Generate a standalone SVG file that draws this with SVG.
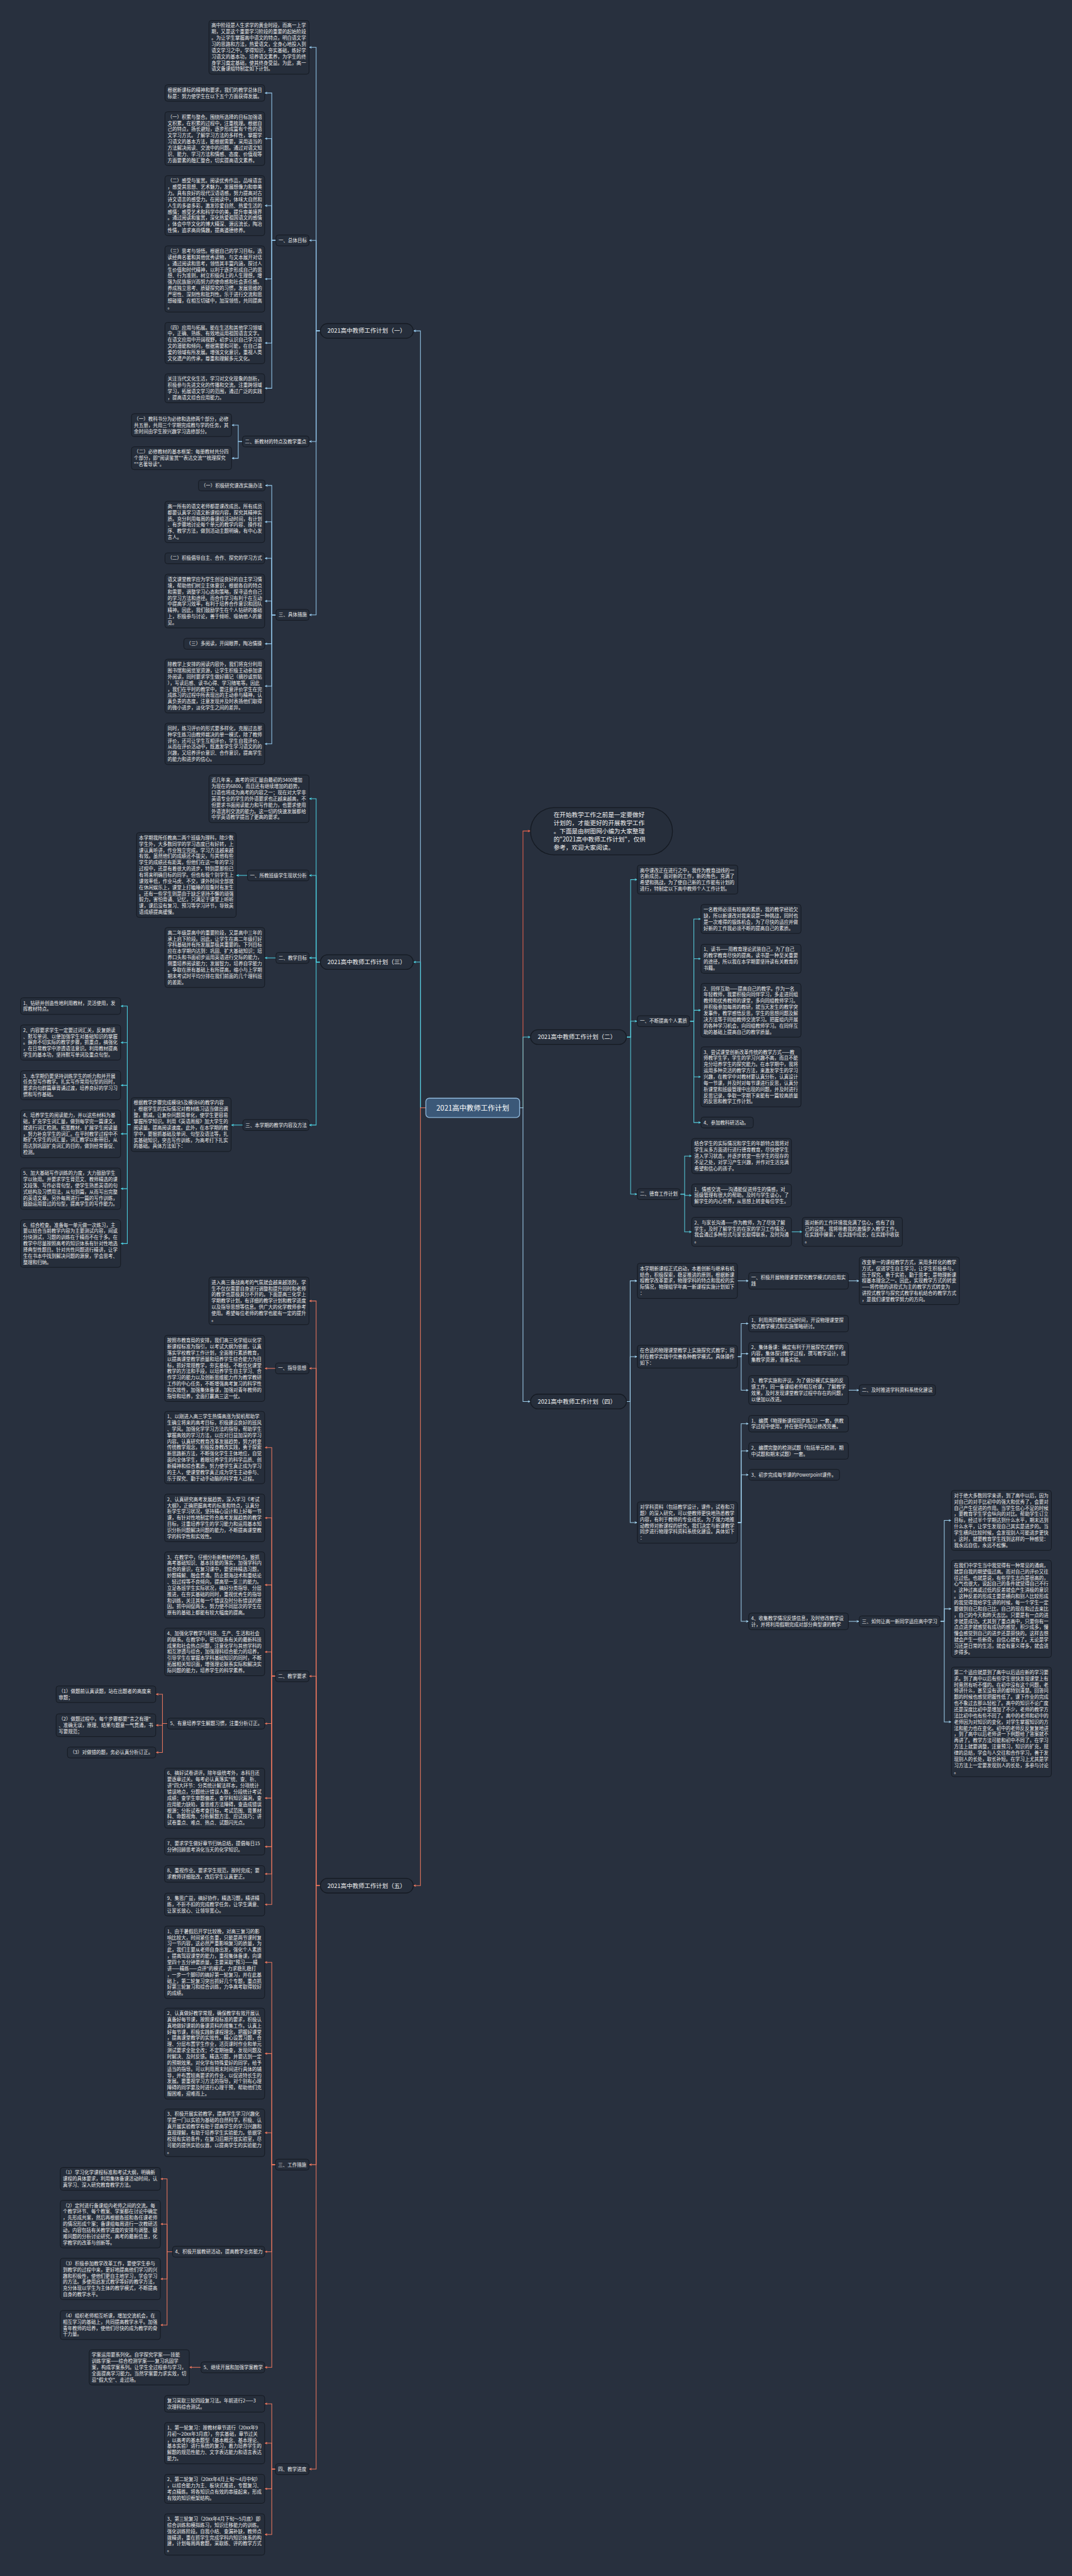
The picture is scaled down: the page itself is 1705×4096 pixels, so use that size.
<svg xmlns="http://www.w3.org/2000/svg" width="1705" height="4096" viewBox="0 0 1705 4096">
<style>
.n{fill:#262e3b;stroke:#151a22;stroke-width:1.5}
.p{fill:#262e3b;stroke:#151a22;stroke-width:2}
.t{font-family:"Noto Sans CJK SC","Noto Sans",sans-serif;font-size:11.3px;fill:#ececec}
.tt{font-family:"Noto Sans CJK SC","Noto Sans",sans-serif;font-size:14.2px;fill:#f0f0f0}
.bt{font-family:"Noto Sans CJK SC","Noto Sans",sans-serif;font-size:14.5px;fill:#f0f0f0}
.ct{font-family:"Noto Sans CJK SC","Noto Sans",sans-serif;font-size:17px;fill:#ffffff}
.l{fill:none;stroke-width:1.6}
.c1{stroke:#93c6ea}.c2{stroke:#55c7d8}.c3{stroke:#4ccfe0}.c4{stroke:#9ccbe8}.c5{stroke:#e8765e}.cr{stroke:#e2624e}
</style>
<defs>
<marker id="m1" viewBox="0 0 8 8" refX="7.5" refY="4" markerWidth="7" markerHeight="7" orient="auto" markerUnits="userSpaceOnUse"><path d="M0,0.5 L8,4 L0,7.5 L2,4 Z" fill="#93c6ea"/></marker>
<marker id="m2" viewBox="0 0 8 8" refX="7.5" refY="4" markerWidth="7" markerHeight="7" orient="auto" markerUnits="userSpaceOnUse"><path d="M0,0.5 L8,4 L0,7.5 L2,4 Z" fill="#55c7d8"/></marker>
<marker id="m3" viewBox="0 0 8 8" refX="7.5" refY="4" markerWidth="7" markerHeight="7" orient="auto" markerUnits="userSpaceOnUse"><path d="M0,0.5 L8,4 L0,7.5 L2,4 Z" fill="#4ccfe0"/></marker>
<marker id="m4" viewBox="0 0 8 8" refX="7.5" refY="4" markerWidth="7" markerHeight="7" orient="auto" markerUnits="userSpaceOnUse"><path d="M0,0.5 L8,4 L0,7.5 L2,4 Z" fill="#9ccbe8"/></marker>
<marker id="m5" viewBox="0 0 8 8" refX="7.5" refY="4" markerWidth="7" markerHeight="7" orient="auto" markerUnits="userSpaceOnUse"><path d="M0,0.5 L8,4 L0,7.5 L2,4 Z" fill="#e8765e"/></marker>
<marker id="mr" viewBox="0 0 8 8" refX="7.5" refY="4" markerWidth="7" markerHeight="7" orient="auto" markerUnits="userSpaceOnUse"><path d="M0,0.5 L8,4 L0,7.5 L2,4 Z" fill="#e2624e"/></marker>
</defs>
<rect x="0" y="0" width="1705" height="4096" fill="#28303e"/>
<g transform="scale(0.666)">
<g id="connectors">
<g class="l c1" marker-end="url(#m1)">
<path d="M1017,2645 H1004 V790 H987"/>
<path d="M765,790 H755 V113 H738"/><path d="M765,790 H755 V574 H738"/><path d="M765,790 H755 V1054 H738"/><path d="M765,790 H755 V1468 H738"/>
<path d="M659,574 H649 V222 H632"/><path d="M659,574 H649 V331 H632"/><path d="M659,574 H649 V491 H632"/><path d="M659,574 H649 V666 H632"/><path d="M659,574 H649 V819 H632"/><path d="M659,574 H649 V927 H632"/>
<path d="M579,1054 H569 V1015 H553"/><path d="M579,1054 H569 V1094 H553"/>
<path d="M659,1468 H649 V1159 H633"/><path d="M659,1468 H649 V1246 H632"/><path d="M659,1468 H649 V1333 H632"/><path d="M659,1468 H649 V1435 H632"/><path d="M659,1468 H649 V1537 H632"/><path d="M659,1468 H649 V1638 H632"/><path d="M659,1468 H649 V1776 H632"/>
</g>
<g class="l c3" marker-end="url(#m3)">
<path d="M1017,2645 H1004 V2297 H987"/>
<path d="M765,2297 H755 V1907 H738"/><path d="M765,2297 H755 V2090 H738"/><path d="M765,2297 H755 V2287 H738"/><path d="M765,2297 H755 V2686 H738"/>
<path d="M591,2090 H564"/><path d="M659,2287 H632"/><path d="M580,2686 H552"/>
<path d="M313,2685 H304 V2402 H288"/><path d="M313,2685 H304 V2489 H288"/><path d="M313,2685 H304 V2591 H288"/><path d="M313,2685 H304 V2707 H288"/><path d="M313,2685 H304 V2838 H288"/><path d="M313,2685 H304 V2969 H288"/>
</g>
<g class="l cr" marker-end="url(#mr)"><path d="M1241,2645 H1249 V1984 H1267"/></g>
<g class="l c2" marker-end="url(#m2)">
<path d="M1241,2645 H1249 V2476 H1267"/>
<path d="M1496,2476 H1506 V2100 H1522"/><path d="M1496,2476 H1506 V2438 H1522"/><path d="M1496,2476 H1506 V2851 H1522"/>
<path d="M1647,2438 H1657 V2194 H1674"/><path d="M1647,2438 H1657 V2289 H1674"/><path d="M1647,2438 H1657 V2412 H1674"/><path d="M1647,2438 H1657 V2571 H1674"/><path d="M1647,2438 H1657 V2680 H1674"/>
<path d="M1624,2851 H1635 V2760 H1652"/><path d="M1624,2851 H1635 V2854 H1652"/><path d="M1624,2851 H1635 V2941 H1652"/>
<path d="M1890,2941 H1916"/>
</g>
<g class="l c4" marker-end="url(#m4)">
<path d="M1241,2645 H1249 V3346 H1267"/>
<path d="M1496,3346 H1505 V3058 H1522"/><path d="M1496,3346 H1505 V3239 H1522"/><path d="M1496,3346 H1505 V3635 H1522"/>
<path d="M1761,3058 H1788"/><path d="M2026,3058 H2052"/>
<path d="M1761,3239 H1770 V3160 H1788"/><path d="M1761,3239 H1770 V3232 H1788"/><path d="M1761,3239 H1770 V3319 H1788"/>
<path d="M2026,3319 H2052"/>
<path d="M1761,3635 H1770 V3399 H1788"/><path d="M1761,3635 H1770 V3464 H1788"/><path d="M1761,3635 H1770 V3521 H1788"/><path d="M1761,3635 H1770 V3871 H1788"/>
<path d="M2026,3871 H2052"/>
<path d="M2245,3871 H2255 V3630 H2272"/><path d="M2245,3871 H2255 V3841 H2272"/><path d="M2245,3871 H2255 V4111 H2272"/>
</g>
<g class="l c5" marker-end="url(#m5)">
<path d="M1017,2645 H1004 V4502 H987"/>
<path d="M765,4502 H755 V3106 H738"/><path d="M765,4502 H755 V3267 H738"/><path d="M765,4502 H755 V4002 H738"/><path d="M765,4502 H755 V5168 H738"/><path d="M765,4502 H755 V5895 H738"/>
<path d="M658,3267 H632"/>
<path d="M658,4002 H649 V3456 H632"/><path d="M658,4002 H649 V3624 H632"/><path d="M658,4002 H649 V3784 H632"/><path d="M658,4002 H649 V3944 H632"/><path d="M658,4002 H649 V4115 H632"/><path d="M658,4002 H649 V4293 H632"/><path d="M658,4002 H649 V4409 H632"/><path d="M658,4002 H649 V4474 H632"/><path d="M658,4002 H649 V4547 H632"/>
<path d="M400,4115 H388 V4045 H372"/><path d="M400,4115 H388 V4119 H372"/><path d="M400,4115 H388 V4184 H372"/>
<path d="M658,5168 H649 V4685 H632"/><path d="M658,5168 H649 V4903 H632"/><path d="M658,5168 H649 V5092 H632"/><path d="M658,5168 H649 V5376 H632"/><path d="M658,5168 H649 V5652 H632"/>
<path d="M412,5376 H399 V5202 H383"/><path d="M412,5376 H399 V5310 H383"/><path d="M412,5376 H399 V5441 H383"/><path d="M412,5376 H399 V5551 H383"/>
<path d="M480,5652 H452"/>
<path d="M658,5895 H649 V5739 H632"/><path d="M658,5895 H649 V5833 H632"/><path d="M658,5895 H649 V5942 H632"/><path d="M658,5895 H649 V6051 H632"/>
</g>
</g>

<g id="center"><rect x="1017" y="2622" width="224" height="46" rx="8" fill="#3b5878" stroke="#8fb8dc" stroke-width="2"/><text class="ct" x="1129" y="2651" text-anchor="middle">2021高中教师工作计划</text></g>

<g id="t1"><rect class="p" x="765" y="772.5" width="222" height="35" rx="17.5"/><text class="tt" x="782" y="795">2021高中教师工作计划（一）</text></g>
<g id="t3"><rect class="p" x="765" y="2279.5" width="222" height="35" rx="17.5"/><text class="tt" x="782" y="2302">2021高中教师工作计划（三）</text></g>
<g id="t5"><rect class="p" x="765" y="4484.5" width="222" height="35" rx="17.5"/><text class="tt" x="782" y="4507">2021高中教师工作计划（五）</text></g>
<g id="t2"><rect class="p" x="1267" y="2458.5" width="229" height="35" rx="17.5"/><text class="tt" x="1284" y="2481">2021高中教师工作计划（二）</text></g>
<g id="t4"><rect class="p" x="1267" y="3328.5" width="229" height="35" rx="17.5"/><text class="tt" x="1284" y="3351">2021高中教师工作计划（四）</text></g>

<g id="intro"><rect class="p" x="1267" y="1928" width="339" height="113" rx="56.5"/><text class="bt" x="1322" y="1950"><tspan x="1322" dy="0">在开始教学工作之前是一定要做好</tspan><tspan x="1322" dy="19.6">计划的，才能更好的开展教学工作</tspan><tspan x="1322" dy="19.6">。下面是由树图网小编为大家整理</tspan><tspan x="1322" dy="19.6">的"2021高中教师工作计划"，仅供</tspan><tspan x="1322" dy="19.6">参考，欢迎大家阅读。</tspan></text></g>

<g id="s1-intro"><rect class="n" x="499" y="48.8" width="239" height="128.4" rx="6"/><text class="t" x="505" y="65.3"><tspan x="505" dy="0">高中阶段是人生求学的黄金时段，而高一上学</tspan><tspan x="505" dy="14.8">期，又是这个重要学习阶段的重要的起始阶段</tspan><tspan x="505" dy="14.8">。为让学生掌握高中语文的特点，明白语文学</tspan><tspan x="505" dy="14.8">习的思路和方法，热爱语文，全身心地投入到</tspan><tspan x="505" dy="14.8">语文学习之中，学得知识，夯实基础，练好学</tspan><tspan x="505" dy="14.8">习语文的基本功，培养语文素养，为学生的终</tspan><tspan x="505" dy="14.8">身学习奠定基础，使其终身受益。为此，高一</tspan><tspan x="505" dy="14.8">语文备课组特制定如下计划。</tspan></text></g>
<g id="s1-h1"><rect class="n" x="659" y="561" width="79" height="26" rx="6"/><text class="t" x="665" y="578">一、总体目标</text></g>
<g id="s1-a"><rect class="n" x="394" y="202.2" width="238" height="39.6" rx="6"/><text class="t" x="400" y="218.7"><tspan x="400" dy="0">根据新课标的精神和要求，我们的教学总体目</tspan><tspan x="400" dy="14.8">标是：努力使学生在以下五个方面获得发展。</tspan></text></g>
<g id="s1-b"><rect class="n" x="394" y="266.8" width="238" height="128.4" rx="6"/><text class="t" x="400" y="283.3"><tspan x="400" dy="0">（一）积累与整合。围绕所选择的目标加强语</tspan><tspan x="400" dy="14.8">文积累，在积累的过程中，注重梳理。根据自</tspan><tspan x="400" dy="14.8">己的特点，扬长避短，逐步形成富有个性的语</tspan><tspan x="400" dy="14.8">文学习方式。了解学习方法的多样性，掌握学</tspan><tspan x="400" dy="14.8">习语文的基本方法，能根据需要，采用适当的</tspan><tspan x="400" dy="14.8">方法解决阅读、交流中的问题。通过对语文知</tspan><tspan x="400" dy="14.8">识、能力、学习方法和情感、态度、价值观等</tspan><tspan x="400" dy="14.8">方面要素的融汇整合，切实提高语文素养。</tspan></text></g>
<g id="s1-c"><rect class="n" x="394" y="419.4" width="238" height="143.2" rx="6"/><text class="t" x="400" y="435.9"><tspan x="400" dy="0">（二）感受与鉴赏。阅读优秀作品，品味语言</tspan><tspan x="400" dy="14.8">，感受其思想、艺术魅力，发展想像力和审美</tspan><tspan x="400" dy="14.8">力。具有良好的现代汉语语感，努力提高对古</tspan><tspan x="400" dy="14.8">诗文语言的感受力。在阅读中，体味大自然和</tspan><tspan x="400" dy="14.8">人生的多姿多彩，激发珍爱自然、热爱生活的</tspan><tspan x="400" dy="14.8">感情；感受艺术和科学中的美，提升审美境界</tspan><tspan x="400" dy="14.8">。通过阅读和鉴赏，深化热爱祖国语文的感情</tspan><tspan x="400" dy="14.8">，体会中华文化的博大精深、源远流长，陶冶</tspan><tspan x="400" dy="14.8">性情，追求高尚情趣，提高道德修养。</tspan></text></g>
<g id="s1-d"><rect class="n" x="394" y="587" width="238" height="158" rx="6"/><text class="t" x="400" y="603.5"><tspan x="400" dy="0">（三）思考与领悟。根据自己的学习目标，选</tspan><tspan x="400" dy="14.8">读经典名著和其他优秀读物，与文本展开对话</tspan><tspan x="400" dy="14.8">。通过阅读和思考，领悟其丰富内涵，探讨人</tspan><tspan x="400" dy="14.8">生价值和时代精神，以利于逐步形成自己的思</tspan><tspan x="400" dy="14.8">想、行为准则，树立积极向上的人生理想，增</tspan><tspan x="400" dy="14.8">强为民族振兴而努力的使命感和社会责任感。</tspan><tspan x="400" dy="14.8">养成独立思考、质疑探究的习惯，发展思维的</tspan><tspan x="400" dy="14.8">严密性、深刻性和批判性。乐于进行交流和思</tspan><tspan x="400" dy="14.8">想碰撞，在相互切磋中，加深领悟，共同提高</tspan><tspan x="400" dy="14.8">。</tspan></text></g>
<g id="s1-e"><rect class="n" x="394" y="769.6" width="238" height="98.8" rx="6"/><text class="t" x="400" y="786.1"><tspan x="400" dy="0">（四）应用与拓展。能在生活和其他学习领域</tspan><tspan x="400" dy="14.8">中，正确、熟练、有效地运用祖国语言文字。</tspan><tspan x="400" dy="14.8">在语文应用中开阔视野，初步认识自己学习语</tspan><tspan x="400" dy="14.8">文的潜能和倾向，根据需要和可能，在自己喜</tspan><tspan x="400" dy="14.8">爱的领域有所发展。增强文化意识，重视人类</tspan><tspan x="400" dy="14.8">文化遗产的传承，尊重和理解多元文化。</tspan></text></g>
<g id="s1-f"><rect class="n" x="394" y="892.4" width="238" height="69.2" rx="6"/><text class="t" x="400" y="908.9"><tspan x="400" dy="0">关注当代文化生活，学习对文化现象的剖析，</tspan><tspan x="400" dy="14.8">积极参与先进文化的传播和交流。注重跨领域</tspan><tspan x="400" dy="14.8">学习，拓展语文学习的范围，通过广泛的实践</tspan><tspan x="400" dy="14.8">，提高语文综合应用能力。</tspan></text></g>
<g id="s1-h2"><rect class="n" x="579" y="1041" width="159" height="26" rx="6"/><text class="t" x="585" y="1058">二、新教材的特点及教学重点</text></g>
<g id="s1-g"><rect class="n" x="314" y="987.8" width="239" height="54.4" rx="6"/><text class="t" x="320" y="1004.3"><tspan x="320" dy="0">（一）教科书分为必修和选修两个部分，必修</tspan><tspan x="320" dy="14.8">共五册，共用三个学期完成教与学的任务，其</tspan><tspan x="320" dy="14.8">余时间由学生按兴趣学习选修部分。</tspan></text></g>
<g id="s1-h"><rect class="n" x="314" y="1066.8" width="239" height="54.4" rx="6"/><text class="t" x="320" y="1083.3"><tspan x="320" dy="0">（二）必修教材的基本框架：每册教材共分四</tspan><tspan x="320" dy="14.8">个部分，即"阅读鉴赏""表达交流""梳理探究</tspan><tspan x="320" dy="14.8">""名著导读"。</tspan></text></g>
<g id="s1-h3"><rect class="n" x="659" y="1455" width="79" height="26" rx="6"/><text class="t" x="665" y="1472">三、具体措施</text></g>
<g id="s1-i"><rect class="n" x="474" y="1146" width="159" height="26" rx="6"/><text class="t" x="480" y="1163">（一）积极研究课改实施办法</text></g>
<g id="s1-j"><rect class="n" x="394" y="1196.6" width="238" height="98.8" rx="6"/><text class="t" x="400" y="1213.1"><tspan x="400" dy="0">高一所有的语文老师都是课改成员。所有成员</tspan><tspan x="400" dy="14.8">都要认真学习语文新课程内容，探究其精神实</tspan><tspan x="400" dy="14.8">质。充分利用每周的备课组活动时间，有计划</tspan><tspan x="400" dy="14.8">、有步骤地讨论每个单元的教学内容、操作程</tspan><tspan x="400" dy="14.8">序、教学方法，做到活动主题明确，有中心发</tspan><tspan x="400" dy="14.8">言人。</tspan></text></g>
<g id="s1-k"><rect class="n" x="394" y="1320" width="238" height="26" rx="6"/><text class="t" x="400" y="1337">（二）积极倡导自主、合作、探究的学习方式</text></g>
<g id="s1-l"><rect class="n" x="394" y="1370.8" width="238" height="128.4" rx="6"/><text class="t" x="400" y="1387.3"><tspan x="400" dy="0">语文课堂教学应为学生创设良好的自主学习情</tspan><tspan x="400" dy="14.8">境，帮助他们树立主体意识，根据各自的特点</tspan><tspan x="400" dy="14.8">和需要，调整学习心态和策略，探寻适合自己</tspan><tspan x="400" dy="14.8">的学习方法和途径。而合作学习有利于在互动</tspan><tspan x="400" dy="14.8">中提高学习效率，有利于培养合作意识和团队</tspan><tspan x="400" dy="14.8">精神。因此，我们鼓励学生在个人钻研的基础</tspan><tspan x="400" dy="14.8">上，积极参与讨论，善于倾听、吸纳他人的意</tspan><tspan x="400" dy="14.8">见。</tspan></text></g>
<g id="s1-m"><rect class="n" x="439" y="1524" width="193" height="26" rx="6"/><text class="t" x="445" y="1541">（三）多阅读，开阔眼界，陶冶情操</text></g>
<g id="s1-n"><rect class="n" x="394" y="1573.8" width="238" height="128.4" rx="6"/><text class="t" x="400" y="1590.3"><tspan x="400" dy="0">除教学上安排的阅读内容外，我们将充分利用</tspan><tspan x="400" dy="14.8">图书馆和阅览室资源，让学生积极主动参加课</tspan><tspan x="400" dy="14.8">外阅读，同时要求学生做好摘记（摘抄或剪贴</tspan><tspan x="400" dy="14.8">），写读后感、读书心得、学习随笔等。因此</tspan><tspan x="400" dy="14.8">，我们在平时的教学中，要注意评价学生在完</tspan><tspan x="400" dy="14.8">成练习的过程中所表现出的主动参与精神，认</tspan><tspan x="400" dy="14.8">真负责的态度，注意发现并及时表扬他们取得</tspan><tspan x="400" dy="14.8">的微小进步，淡化学生之间的差异。</tspan></text></g>
<g id="s1-o"><rect class="n" x="394" y="1726.6" width="238" height="98.8" rx="6"/><text class="t" x="400" y="1743.1"><tspan x="400" dy="0">同时，练习评价的形式要多样化，克服过去那</tspan><tspan x="400" dy="14.8">种学生练习由教师裁决的单一模式，除了教师</tspan><tspan x="400" dy="14.8">评价，还可让学生互相评价，学生自我评价，</tspan><tspan x="400" dy="14.8">从而在评价活动中，既激发学生学习语文的的</tspan><tspan x="400" dy="14.8">兴趣，又培养评价意识、合作意识，提高学生</tspan><tspan x="400" dy="14.8">的能力和进步的信心。</tspan></text></g>

<g id="s3-intro"><rect class="n" x="499" y="1850.2" width="239" height="113.6" rx="6"/><text class="t" x="505" y="1866.7"><tspan x="505" dy="0">近几年来，高考的词汇量由最初的3400增加</tspan><tspan x="505" dy="14.8">为现在的6800，而且还有继续增加的趋势，</tspan><tspan x="505" dy="14.8">口语也将成为高考的内容之一；现在对大学非</tspan><tspan x="505" dy="14.8">英语专业的学生的外语要求也正越来越高，不</tspan><tspan x="505" dy="14.8">但要求书面阅读能力和写作能力，也要求使用</tspan><tspan x="505" dy="14.8">外语流利交流的能力。这一切的快速发展都给</tspan><tspan x="505" dy="14.8">中学英语教学提出了更高的要求。</tspan></text></g>
<g id="s3-h1"><rect class="n" x="591" y="2077" width="147" height="26" rx="6"/><text class="t" x="597" y="2094">一、所教班级学生现状分析</text></g>
<g id="s3-b1"><rect class="n" x="326" y="1987.8" width="238" height="202.4" rx="6"/><text class="t" x="332" y="2004.3"><tspan x="332" dy="0">本学期我所任教高二两个班级为理科，除少数</tspan><tspan x="332" dy="14.8">学生外，大多数同学的学习态度已有好转，上</tspan><tspan x="332" dy="14.8">课认真听讲，作业独立完成，学习方法越来越</tspan><tspan x="332" dy="14.8">有效。虽然他们的成绩还不拔尖，与其他有些</tspan><tspan x="332" dy="14.8">学生的成绩还有距离，但他们在这一年的学习</tspan><tspan x="332" dy="14.8">过程中，还是有着很大的进步，特别是那些已</tspan><tspan x="332" dy="14.8">有将来明确目标的同学。但也有极个别学生上</tspan><tspan x="332" dy="14.8">课效率低，作业马虎、不交，课外时间全部放</tspan><tspan x="332" dy="14.8">在休闲娱乐上，课堂上打瞌睡的现象时有发生</tspan><tspan x="332" dy="14.8">。还有一些学生则是由于缺乏坚持不懈的顽强</tspan><tspan x="332" dy="14.8">毅力，害怕背诵、记忆，只满足于课堂上听听</tspan><tspan x="332" dy="14.8">课，课后没有复习、预习等学习环节，导致英</tspan><tspan x="332" dy="14.8">语成绩提高缓慢。</tspan></text></g>
<g id="s3-h2"><rect class="n" x="659" y="2274" width="79" height="26" rx="6"/><text class="t" x="665" y="2291">二、教学目标</text></g>
<g id="s3-b2"><rect class="n" x="394" y="2214.4" width="238" height="143.2" rx="6"/><text class="t" x="400" y="2230.9"><tspan x="400" dy="0">高二年级是高中的重要阶段，又是高中三年的</tspan><tspan x="400" dy="14.8">承上启下阶段。因此，让学生在高二年级打好</tspan><tspan x="400" dy="14.8">学科基础并有所发展是极其重要的。下列目标</tspan><tspan x="400" dy="14.8">应在本学期内达到：巩固、扩大基础知识；培</tspan><tspan x="400" dy="14.8">养口头和书面初步运用英语进行交际的能力，</tspan><tspan x="400" dy="14.8">侧重培养阅读能力；发展智力，培养自学能力</tspan><tspan x="400" dy="14.8">。争取在原有基础上有所提高，缩小与上学期</tspan><tspan x="400" dy="14.8">期末考试时平均分排在我们前面的几个理科班</tspan><tspan x="400" dy="14.8">的差距。</tspan></text></g>
<g id="s3-h3"><rect class="n" x="580" y="2673" width="158" height="26" rx="6"/><text class="t" x="586" y="2690">三、本学期的教学内容及方法</text></g>
<g id="s3-b3"><rect class="n" x="313" y="2620.8" width="239" height="128.4" rx="6"/><text class="t" x="319" y="2637.3"><tspan x="319" dy="0">根据教学步骤完成模块5及模块6的教学内容</tspan><tspan x="319" dy="14.8">，根据学生的实际情况对教材练习适当做出调</tspan><tspan x="319" dy="14.8">整，删减。让复杂问题简单化，使学生更容易</tspan><tspan x="319" dy="14.8">掌握所学知识。利用《英语周报》加大学生的</tspan><tspan x="319" dy="14.8">阅读量。提高阅读速度。此外，在本学期的教</tspan><tspan x="319" dy="14.8">学中，要狠抓基础及单词、句型及语法等，扎</tspan><tspan x="319" dy="14.8">实基础知识，突击写作训练，为高考打下扎实</tspan><tspan x="319" dy="14.8">的基础。具体方法如下：</tspan></text></g>
<g id="s3-i1"><rect class="n" x="49" y="2382.2" width="239" height="39.6" rx="6"/><text class="t" x="55" y="2398.7"><tspan x="55" dy="0">1、钻研并创造性地利用教材，灵活使用，发</tspan><tspan x="55" dy="14.8">挥教材特点。</tspan></text></g>
<g id="s3-i2"><rect class="n" x="49" y="2447" width="239" height="84" rx="6"/><text class="t" x="55" y="2463.5"><tspan x="55" dy="0">2、内容要求学生一定要过词汇关，反复朗读</tspan><tspan x="55" dy="14.8">、默写单词、以便加强学生对基础知识的掌握</tspan><tspan x="55" dy="14.8">。摒弃不切实际的教学步骤，抓重点，搞强化</tspan><tspan x="55" dy="14.8">，在日常教学中渗透语法意识。利用教材提高</tspan><tspan x="55" dy="14.8">学生的基本功，坚持默写单词及重点句型。</tspan></text></g>
<g id="s3-i3"><rect class="n" x="49" y="2556.4" width="239" height="69.2" rx="6"/><text class="t" x="55" y="2572.9"><tspan x="55" dy="0">3、本学期仍要坚持训练学生的听力和并开展</tspan><tspan x="55" dy="14.8">任务型写作教学。扎实写作常用句型的同时，</tspan><tspan x="55" dy="14.8">要求向句群篇章背诵过渡，培养良好的学习习</tspan><tspan x="55" dy="14.8">惯和写作基础。</tspan></text></g>
<g id="s3-i4"><rect class="n" x="49" y="2650.2" width="239" height="113.6" rx="6"/><text class="t" x="55" y="2666.7"><tspan x="55" dy="0">4、培养学生的阅读能力，并以这些材料为基</tspan><tspan x="55" dy="14.8">础，扩充学生词汇量，做到每学完一篇课文，</tspan><tspan x="55" dy="14.8">就进行词汇检测。拓宽教材，扩展学生阅读量</tspan><tspan x="55" dy="14.8">，努力补充学生的词汇。在平时教学过程中不</tspan><tspan x="55" dy="14.8">断扩大学生的词汇量，词汇教学以新带旧，从</tspan><tspan x="55" dy="14.8">而达到巩固扩充词汇的目的，做到经常督促、</tspan><tspan x="55" dy="14.8">检测。</tspan></text></g>
<g id="s3-i5"><rect class="n" x="49" y="2788.6" width="239" height="98.8" rx="6"/><text class="t" x="55" y="2805.1"><tspan x="55" dy="0">5、加大基础写作训练的力度，大力鼓励学生</tspan><tspan x="55" dy="14.8">学以致用。并要求学生背范文、教师精选的课</tspan><tspan x="55" dy="14.8">文段落、写作必背句型，使学生熟悉英语的句</tspan><tspan x="55" dy="14.8">式结构及习惯用法，从句到篇，从而写出完整</tspan><tspan x="55" dy="14.8">的英语文章。另外每周进行一篇的写作训练，</tspan><tspan x="55" dy="14.8">鼓励运用背过的句型，提高学生的写作能力。</tspan></text></g>
<g id="s3-i6"><rect class="n" x="49" y="2912.2" width="239" height="113.6" rx="6"/><text class="t" x="55" y="2928.7"><tspan x="55" dy="0">6、综合检查。准备每一单元做一次练习，主</tspan><tspan x="55" dy="14.8">要以结合当前教学内容为主要测试内容，间或</tspan><tspan x="55" dy="14.8">分块测试，习题的训练在于精而不在于多。在</tspan><tspan x="55" dy="14.8">教学中尽量按照高考的知识体系有针对性地选</tspan><tspan x="55" dy="14.8">择典型性题目。针对共性问题进行精讲，让学</tspan><tspan x="55" dy="14.8">生在书本中找到解决问题的源泉，学会思考、</tspan><tspan x="55" dy="14.8">整理和归纳。</tspan></text></g>

<g id="s2-a"><rect class="n" x="1522" y="2065.4" width="240" height="69.2" rx="6"/><text class="t" x="1528" y="2081.9"><tspan x="1528" dy="0">高中课改正在进行之中，我作为教育战线的一</tspan><tspan x="1528" dy="14.8">名新成员，面对新的工作，新的角色，充满了</tspan><tspan x="1528" dy="14.8">希望和挑战，为了使自己新的工作能有计划的</tspan><tspan x="1528" dy="14.8">进行，特制定以下高中教师个人工作计划。</tspan></text></g>
<g id="s2-h1"><rect class="n" x="1522" y="2425" width="125" height="26" rx="6"/><text class="t" x="1528" y="2442">一、不断提高个人素质</text></g>
<g id="s2-i"><rect class="n" x="1674" y="2159.4" width="239" height="69.2" rx="6"/><text class="t" x="1680" y="2175.9"><tspan x="1680" dy="0">一名教师必须有较高的素质，我的教学经验欠</tspan><tspan x="1680" dy="14.8">缺，所以新课改对我来说是一种挑战，同时也</tspan><tspan x="1680" dy="14.8">是一次难得的锻炼机会，为了尽快的适应并做</tspan><tspan x="1680" dy="14.8">好新的工作我必须不断的提高自己的素质。</tspan></text></g>
<g id="s2-ii"><rect class="n" x="1674" y="2254.4" width="239" height="69.2" rx="6"/><text class="t" x="1680" y="2270.9"><tspan x="1680" dy="0">1、读书——用教育理论武装自己，为了自己</tspan><tspan x="1680" dy="14.8">的教学教育尽快的提高，读书是一种至关重要</tspan><tspan x="1680" dy="14.8">的途径，所以我在本学期要坚持读有关教育的</tspan><tspan x="1680" dy="14.8">书籍。</tspan></text></g>
<g id="s2-iii"><rect class="n" x="1674" y="2347.8" width="239" height="128.4" rx="6"/><text class="t" x="1680" y="2364.3"><tspan x="1680" dy="0">2、同伴互助——提高自己的教学。作为一名</tspan><tspan x="1680" dy="14.8">年轻教师，我要积极向同伴学习，多走进同组</tspan><tspan x="1680" dy="14.8">教师和优秀教师的课堂，多向同组教师学习。</tspan><tspan x="1680" dy="14.8">并积极参加每周的教研，就当天发生的教学突</tspan><tspan x="1680" dy="14.8">发事件，教学感悟反思，学生的思想问题及解</tspan><tspan x="1680" dy="14.8">决方法等于同组教师交流学习。把握组内开展</tspan><tspan x="1680" dy="14.8">的各种学习机会，向同组教师学习。在同伴互</tspan><tspan x="1680" dy="14.8">助的基础上提高自己的教学质量。</tspan></text></g>
<g id="s2-iv"><rect class="n" x="1674" y="2499.4" width="239" height="143.2" rx="6"/><text class="t" x="1680" y="2515.9"><tspan x="1680" dy="0">3、尝试课堂创新改革传统的教学方式——教</tspan><tspan x="1680" dy="14.8">师教学生学，学生的学习兴趣不高，而且不能</tspan><tspan x="1680" dy="14.8">充分培养学生的探究能力。在本学期中，我将</tspan><tspan x="1680" dy="14.8">运用多种灵活的教学方法，来激发学生的学习</tspan><tspan x="1680" dy="14.8">兴趣，在教学中对教材要认真分析，认真设计</tspan><tspan x="1680" dy="14.8">每一节课，并及时对每节课进行反思，认真分</tspan><tspan x="1680" dy="14.8">析课堂和班级管理中出现的问题，并及时进行</tspan><tspan x="1680" dy="14.8">反思记录，争取一学期下来能有一篇较高质量</tspan><tspan x="1680" dy="14.8">的反思和教学工作计划。</tspan></text></g>
<g id="s2-v"><rect class="n" x="1674" y="2667" width="125" height="26" rx="6"/><text class="t" x="1680" y="2684">4、参加教科研活动。</text></g>
<g id="s2-h2"><rect class="n" x="1522" y="2838" width="102" height="26" rx="6"/><text class="t" x="1528" y="2855">二、德育工作计划</text></g>
<g id="s2-d1"><rect class="n" x="1652" y="2718" width="238" height="84" rx="6"/><text class="t" x="1658" y="2734.5"><tspan x="1658" dy="0">结合学生的实际情况和学生的年龄特点我将对</tspan><tspan x="1658" dy="14.8">学生从多方面进行进行德育教育，尽快使学生</tspan><tspan x="1658" dy="14.8">进入学习状态，并逐步转变一些学生的现存的</tspan><tspan x="1658" dy="14.8">不足之处，对学习产生兴趣，并作对生活充满</tspan><tspan x="1658" dy="14.8">希望和信心的孩子。</tspan></text></g>
<g id="s2-d2"><rect class="n" x="1652" y="2826.8" width="238" height="54.4" rx="6"/><text class="t" x="1658" y="2843.3"><tspan x="1658" dy="0">1、情感交流——沟通能促进师生的情感，对</tspan><tspan x="1658" dy="14.8">班级管理有很大的帮助。及时与学生谈心，了</tspan><tspan x="1658" dy="14.8">解学生的内心世界，从思想上转变每位学生。</tspan></text></g>
<g id="s2-d3"><rect class="n" x="1652" y="2906.4" width="238" height="69.2" rx="6"/><text class="t" x="1658" y="2922.9"><tspan x="1658" dy="0">2、与家长沟通——作为教师，为了尽快了解</tspan><tspan x="1658" dy="14.8">学生，及时了解学生的在家的学习工作情况，</tspan><tspan x="1658" dy="14.8">我会通过多种形式与家长取得联系，及时沟通</tspan><tspan x="1658" dy="14.8">。</tspan></text></g>
<g id="s2-d4"><rect class="n" x="1916" y="2906.4" width="239" height="69.2" rx="6"/><text class="t" x="1922" y="2922.9"><tspan x="1922" dy="0">面对新的工作环境我充满了信心，也有了自</tspan><tspan x="1922" dy="14.8">己的设想，我将带着我的激情步入教学工作，</tspan><tspan x="1922" dy="14.8">在实践中摸索，在实践中成长，在实践中收获</tspan><tspan x="1922" dy="14.8">。</tspan></text></g>

<g id="s4-a"><rect class="n" x="1522" y="3016" width="239" height="84" rx="6"/><text class="t" x="1528" y="3032.5"><tspan x="1528" dy="0">本学期新课程正式启动，本着创新与继承有机</tspan><tspan x="1528" dy="14.8">结合，积极探索，稳妥推进的原则，根据新课</tspan><tspan x="1528" dy="14.8">程教学改革要求，物理学科的特点和我校的实</tspan><tspan x="1528" dy="14.8">际情况，物理组学年高一新课程实施计划如下</tspan><tspan x="1528" dy="14.8">：</tspan></text></g>
<g id="s4-a1"><rect class="n" x="1788" y="3038.2" width="238" height="39.6" rx="6"/><text class="t" x="1794" y="3054.7"><tspan x="1794" dy="0">一、积极开展物理课堂探究教学模式的应用实</tspan><tspan x="1794" dy="14.8">践</tspan></text></g>
<g id="s4-a2"><rect class="n" x="2052" y="3001.2" width="239" height="113.6" rx="6"/><text class="t" x="2058" y="3017.7"><tspan x="2058" dy="0">改变单一的课程教学方式，采用多样化的教学</tspan><tspan x="2058" dy="14.8">方式，促进学生自主学习，让学生积极参与，</tspan><tspan x="2058" dy="14.8">乐于探究，勇于实验，勤于思考；是物理新课</tspan><tspan x="2058" dy="14.8">程基本理念之一。因此，实现教学方式的转变</tspan><tspan x="2058" dy="14.8">——将传统的讲授式为主的教学方式转变为</tspan><tspan x="2058" dy="14.8">讲授式教学与探究式教学有机结合的教学方式</tspan><tspan x="2058" dy="14.8">，是我们课堂教学努力的方向。</tspan></text></g>
<g id="s4-b"><rect class="n" x="1522" y="3211.8" width="239" height="54.4" rx="6"/><text class="t" x="1528" y="3228.3"><tspan x="1528" dy="0">在合适的物理课堂教学上实施探究式教学；同</tspan><tspan x="1528" dy="14.8">时在教学实践中完善各种教学模式。具体操作</tspan><tspan x="1528" dy="14.8">如下：</tspan></text></g>
<g id="s4-b1"><rect class="n" x="1788" y="3140.2" width="238" height="39.6" rx="6"/><text class="t" x="1794" y="3156.7"><tspan x="1794" dy="0">1、利用周四教研活动时间，开设物理课堂探</tspan><tspan x="1794" dy="14.8">究式教学模式和实施策略研讨。</tspan></text></g>
<g id="s4-b2"><rect class="n" x="1788" y="3204.8" width="238" height="54.4" rx="6"/><text class="t" x="1794" y="3221.3"><tspan x="1794" dy="0">2、集体备课：确定有利于开展探究式教学的</tspan><tspan x="1794" dy="14.8">内容，集体探讨教学过程，撰写教学设计，搜</tspan><tspan x="1794" dy="14.8">集教学资源，准备实验。</tspan></text></g>
<g id="s4-b3"><rect class="n" x="1788" y="3284.4" width="238" height="69.2" rx="6"/><text class="t" x="1794" y="3300.9"><tspan x="1794" dy="0">3、教学实施和评议。为了做好模式实施的反</tspan><tspan x="1794" dy="14.8">馈工作，同一备课组老师相互听课，了解教学</tspan><tspan x="1794" dy="14.8">效果，及时发现课堂教学过程中存在的问题，</tspan><tspan x="1794" dy="14.8">以便加以改进。</tspan></text></g>
<g id="s4-b3a"><rect class="n" x="2052" y="3306" width="182" height="26" rx="6"/><text class="t" x="2058" y="3323">二、及时推进学科资料系统化建设</text></g>
<g id="s4-c"><rect class="n" x="1522" y="3585.6" width="239" height="98.8" rx="6"/><text class="t" x="1528" y="3602.1"><tspan x="1528" dy="0">对学科资料（包括教学设计，课件，试卷和习</tspan><tspan x="1528" dy="14.8">题）的深入研究，可以使教师更快地熟悉教学</tspan><tspan x="1528" dy="14.8">内容，有利于教师的专业成长。为了强力地推</tspan><tspan x="1528" dy="14.8">动教师对新课程的研究，我们决定与新课教学</tspan><tspan x="1528" dy="14.8">同步进行物理学科资料系统化建设。具体如下</tspan><tspan x="1528" dy="14.8">：</tspan></text></g>
<g id="s4-c1"><rect class="n" x="1788" y="3379.2" width="238" height="39.6" rx="6"/><text class="t" x="1794" y="3395.7"><tspan x="1794" dy="0">1、编撰《物理新课程同步练习》一套，供教</tspan><tspan x="1794" dy="14.8">学过程中使用，并在使用中加以修改完善。</tspan></text></g>
<g id="s4-c2"><rect class="n" x="1788" y="3444.2" width="238" height="39.6" rx="6"/><text class="t" x="1794" y="3460.7"><tspan x="1794" dy="0">2、编撰完整的检测试题（包括单元检测，期</tspan><tspan x="1794" dy="14.8">中试题和期末试题）一套。</tspan></text></g>
<g id="s4-c3"><rect class="n" x="1788" y="3508" width="217" height="26" rx="6"/><text class="t" x="1794" y="3525">3、初步完成每节课的Powerpoint课件。</text></g>
<g id="s4-c4"><rect class="n" x="1788" y="3851.2" width="238" height="39.6" rx="6"/><text class="t" x="1794" y="3867.7"><tspan x="1794" dy="0">4、收集教学情况反馈信息，及时修改教学设</tspan><tspan x="1794" dy="14.8">计，并将利用假期完成对部分典型课的教学</tspan></text></g>
<g id="s4-c4a"><rect class="n" x="2052" y="3858" width="193" height="26" rx="6"/><text class="t" x="2058" y="3875">三、如何让高一新同学适应高中学习</text></g>
<g id="s4-A"><rect class="n" x="2272" y="3558.4" width="239" height="143.2" rx="6"/><text class="t" x="2278" y="3574.9"><tspan x="2278" dy="0">对于绝大多数同学来讲，到了高中以后，因为</tspan><tspan x="2278" dy="14.8">对自己的对手比初中的强大和优秀了，会要对</tspan><tspan x="2278" dy="14.8">自己产生促进的作用。当学生信心不足的时候</tspan><tspan x="2278" dy="14.8">，要教育学生学会纵向的对比。帮助学生订立</tspan><tspan x="2278" dy="14.8">目标，经过半个学期达到什么水平，期末达到</tspan><tspan x="2278" dy="14.8">什么水平，让学生发现自己其实是进步的。当</tspan><tspan x="2278" dy="14.8">学生横向比较时候，会发现别人可能进步更快</tspan><tspan x="2278" dy="14.8">。这时，就要教育学生找到这样的一种感觉：</tspan><tspan x="2278" dy="14.8">我永远自信，永远不松懈。</tspan></text></g>
<g id="s4-B"><rect class="n" x="2272" y="3725" width="239" height="232" rx="6"/><text class="t" x="2278" y="3741.5"><tspan x="2278" dy="0">在我们中学生当中我觉得有一种常见的通病，</tspan><tspan x="2278" dy="14.8">就是自我的期望值过高。而对自己的评价又往</tspan><tspan x="2278" dy="14.8">往过低。也就是说，有些学生志向是很高的，</tspan><tspan x="2278" dy="14.8">心气也很大，说起自己的条件就觉得自己不行</tspan><tspan x="2278" dy="14.8">。这种过高或过低的反差就会产生消极的意识</tspan><tspan x="2278" dy="14.8">。这种反差的形成主要是横向和别人比较形成</tspan><tspan x="2278" dy="14.8">的我觉得我给学生讲的时候，每一个学生一定</tspan><tspan x="2278" dy="14.8">要做到自己和自己比，自己的现在和过去来比</tspan><tspan x="2278" dy="14.8">，自己的今天和昨天去比。只要是有一点的进</tspan><tspan x="2278" dy="14.8">步就是成功。尤其到了重点高中，只要你有一</tspan><tspan x="2278" dy="14.8">点点进步就感觉有成功的感觉，积少成多，慢</tspan><tspan x="2278" dy="14.8">慢会感觉到自己的进步还是挺快的。这样去想</tspan><tspan x="2278" dy="14.8">就会产生一些新奇，自信心就有了。无论是学</tspan><tspan x="2278" dy="14.8">习还是日常的生活，就会有意义得多，就会进</tspan><tspan x="2278" dy="14.8">步得多。</tspan></text></g>
<g id="s4-C"><rect class="n" x="2272" y="3980.2" width="239" height="261.6" rx="6"/><text class="t" x="2278" y="3996.7"><tspan x="2278" dy="0">第二个适应就是到了高中以后适应新的学习要</tspan><tspan x="2278" dy="14.8">求。到了高中以后有些学生很快发现课堂上有</tspan><tspan x="2278" dy="14.8">时竟然有听不懂的。在初中没有这个问题，老</tspan><tspan x="2278" dy="14.8">师讲什么，甚至没有讲的都特别清楚。回答问</tspan><tspan x="2278" dy="14.8">题的时候也感觉把握性低了。课下作业的完成</tspan><tspan x="2278" dy="14.8">也不象过去那么轻松了。高中的知识不论广度</tspan><tspan x="2278" dy="14.8">还是深度比初中是增加了不少，老师的教学方</tspan><tspan x="2278" dy="14.8">法比初中也有些不同了。高中的老师和初中的</tspan><tspan x="2278" dy="14.8">老师因为对知识的变化，对学生掌握知识的方</tspan><tspan x="2278" dy="14.8">法和能力也在变化。初中的老师反反复复地讲</tspan><tspan x="2278" dy="14.8">，到了高中以后老师讲一下例题给了答案就不</tspan><tspan x="2278" dy="14.8">再讲了。教学方法可能和初中不同了，在学习</tspan><tspan x="2278" dy="14.8">方法上就要调整，注意预习，知识的扩充，规</tspan><tspan x="2278" dy="14.8">律的总结，学会与人交往和合作学习，善于发</tspan><tspan x="2278" dy="14.8">现别人的长处，取长补短。在学习上尤其是学</tspan><tspan x="2278" dy="14.8">习方法上一定要发现别人的长处，多参与讨论</tspan><tspan x="2278" dy="14.8">。</tspan></text></g>

<g id="s5-intro"><rect class="n" x="499" y="3049.2" width="239" height="113.6" rx="6"/><text class="t" x="505" y="3065.7"><tspan x="505" dy="0">进入高三备战高考的气氛就会越来越浓烈，学</tspan><tspan x="505" dy="14.8">生不仅仅需要自身进行调整和提升同时和老师</tspan><tspan x="505" dy="14.8">的教学也是极其分不开的。下面是高三化学上</tspan><tspan x="505" dy="14.8">学期教学计划，有详细的教学计划和教学进度</tspan><tspan x="505" dy="14.8">以及指导思想等信息。供广大的化学教师参考</tspan><tspan x="505" dy="14.8">使用。希望每位老师的教学也能有一定的提升</tspan><tspan x="505" dy="14.8">。</tspan></text></g>
<g id="s5-h1"><rect class="n" x="658" y="3254" width="80" height="26" rx="6"/><text class="t" x="664" y="3271">一、指导思想</text></g>
<g id="s5-e1"><rect class="n" x="393" y="3188" width="239" height="158" rx="6"/><text class="t" x="399" y="3204.5"><tspan x="399" dy="0">按照市教育局的安排，我们高三化学组以化学</tspan><tspan x="399" dy="14.8">新课程标准为指引，以考试大纲为依据，认真</tspan><tspan x="399" dy="14.8">落实学校教学工作计划，全面推行素质教育，</tspan><tspan x="399" dy="14.8">以提高课堂教学质量和培养学生综合能力为目</tspan><tspan x="399" dy="14.8">标，抓好常规教学，夯实基础，不断优化课堂</tspan><tspan x="399" dy="14.8">教学的方法和手段，以培养学生自主学习、合</tspan><tspan x="399" dy="14.8">作学习的能力以及创新思维能力作为教学教研</tspan><tspan x="399" dy="14.8">工作的中心任务，不断增强高考复习的科学性</tspan><tspan x="399" dy="14.8">和实效性，加强集体备课，加强对青年教师的</tspan><tspan x="399" dy="14.8">指导和培养，全面打赢高三这一仗。</tspan></text></g>
<g id="s5-h2"><rect class="n" x="658" y="3989" width="80" height="26" rx="6"/><text class="t" x="664" y="4006">二、教学要求</text></g>
<g id="s5-r1"><rect class="n" x="393" y="3369.6" width="239" height="172.8" rx="6"/><text class="t" x="399" y="3386.1"><tspan x="399" dy="0">1、以刚进入高三学生热情高涨为契机帮助学</tspan><tspan x="399" dy="14.8">生确立将来的高考目标，积极建设良好的班风</tspan><tspan x="399" dy="14.8">、学风。加强化学学习方法的指导，帮助学生</tspan><tspan x="399" dy="14.8">掌握高效的学习方法，以应对日益加深的学习</tspan><tspan x="399" dy="14.8">内容。认真研究教育改革发展趋势，努力转变</tspan><tspan x="399" dy="14.8">传统教学观念，积极投身教改实践，勇于探索</tspan><tspan x="399" dy="14.8">新思路新方法，不断强化学生主体地位，自觉</tspan><tspan x="399" dy="14.8">面向全体学生，着眼培养学生的科学品质、创</tspan><tspan x="399" dy="14.8">新精神和综合素质，努力使学生真正成为学习</tspan><tspan x="399" dy="14.8">的主人，使课堂教学真正成为学生主动参与、</tspan><tspan x="399" dy="14.8">乐于探究、勤于动手动脑的科学育人过程。</tspan></text></g>
<g id="s5-r2"><rect class="n" x="393" y="3567.2" width="239" height="113.6" rx="6"/><text class="t" x="399" y="3583.7"><tspan x="399" dy="0">2、认真研究高考发展趋势，深入学习《考试</tspan><tspan x="399" dy="14.8">大纲》，正确把握高考的标准和特点，认真分</tspan><tspan x="399" dy="14.8">析学生学习状况，坚持精心设计和上好每一节</tspan><tspan x="399" dy="14.8">课，有针对性地制定符合高考发展趋势的教学</tspan><tspan x="399" dy="14.8">目标，注重培养学生的学习能力和运用基本知</tspan><tspan x="399" dy="14.8">识分析问题解决问题的能力，不断提高课堂教</tspan><tspan x="399" dy="14.8">学的科学性和实效性。</tspan></text></g>
<g id="s5-r3"><rect class="n" x="393" y="3705" width="239" height="158" rx="6"/><text class="t" x="399" y="3721.5"><tspan x="399" dy="0">3、在教学中，仔细分析新教材的特点，狠抓</tspan><tspan x="399" dy="14.8">高考基础知识、基本技能的落实，加强学科内</tspan><tspan x="399" dy="14.8">综合的意识，在复习课中，要坚持精选习题，</tspan><tspan x="399" dy="14.8">妙题精解、融会贯通。防止题海战术和重结论</tspan><tspan x="399" dy="14.8">、轻过程等不良倾向，提高举一反三的能力。</tspan><tspan x="399" dy="14.8">立足各班学生实际状况，搞好分类指导、分层</tspan><tspan x="399" dy="14.8">推进，在夯实基础的同时，重视优秀生的指导</tspan><tspan x="399" dy="14.8">和训练，关注其每一个错误及时分析错误的原</tspan><tspan x="399" dy="14.8">因。抓中间促两头，努力使不同层次的学生在</tspan><tspan x="399" dy="14.8">原有的基础上都能有较大幅度的提高。</tspan></text></g>
<g id="s5-r4"><rect class="n" x="393" y="3887.2" width="239" height="113.6" rx="6"/><text class="t" x="399" y="3903.7"><tspan x="399" dy="0">4、加强化学教学与科技、生产、生活和社会</tspan><tspan x="399" dy="14.8">的联系。在教学中，密切联系有关的最新科技</tspan><tspan x="399" dy="14.8">成果和社会热点问题，注意化学与其他学科的</tspan><tspan x="399" dy="14.8">相互渗透与综合，加强理科综合能力的培养，</tspan><tspan x="399" dy="14.8">引导学生在掌握本学科基础知识的同时，不断</tspan><tspan x="399" dy="14.8">拓展相关知识面，增强理论联系实际和解决实</tspan><tspan x="399" dy="14.8">际问题的能力，培养学生的科学素养。</tspan></text></g>
<g id="s5-r5"><rect class="n" x="400" y="4102" width="232" height="26" rx="6"/><text class="t" x="406" y="4119">5、有意培养学生解题习惯，注重分析订正。</text></g>
<g id="s5-r5a"><rect class="n" x="134" y="4025.2" width="238" height="39.6" rx="6"/><text class="t" x="140" y="4041.7"><tspan x="140" dy="0">（1）做题前认真读题，站在出题者的高度来</tspan><tspan x="140" dy="14.8">审题；</tspan></text></g>
<g id="s5-r5b"><rect class="n" x="134" y="4091.8" width="238" height="54.4" rx="6"/><text class="t" x="140" y="4108.3"><tspan x="140" dy="0">（2）做题过程中，每个步骤都要"言之有理"</tspan><tspan x="140" dy="14.8">、准确无误，原理、结果与题意一气贯通，书</tspan><tspan x="140" dy="14.8">写要规范；</tspan></text></g>
<g id="s5-r5c"><rect class="n" x="161" y="4171" width="211" height="26" rx="6"/><text class="t" x="167" y="4188">（3）对做错的题，务必认真分析订正。</text></g>
<g id="s5-r6"><rect class="n" x="393" y="4221.4" width="239" height="143.2" rx="6"/><text class="t" x="399" y="4237.9"><tspan x="399" dy="0">6、搞好试卷讲评。除年级统考外，本科目还</tspan><tspan x="399" dy="14.8">要逐章过关。每考必认真落实"统、查、析、</tspan><tspan x="399" dy="14.8">讲"四大环节：分类统计解法样本，分项统计</tspan><tspan x="399" dy="14.8">错误地点，分题统计错误人数，分段统计考试</tspan><tspan x="399" dy="14.8">成绩；查学生审题偏差，查学科知识漏洞，查</tspan><tspan x="399" dy="14.8">应用能力缺陷，查思维方法障碍，查造成错误</tspan><tspan x="399" dy="14.8">根源；分析试卷考查目标，考试范围、背景材</tspan><tspan x="399" dy="14.8">料、命题视角、分析解题方法、应试技巧；讲</tspan><tspan x="399" dy="14.8">试卷重点、难点、热点、试题闪光点。</tspan></text></g>
<g id="s5-r7"><rect class="n" x="393" y="4389.2" width="239" height="39.6" rx="6"/><text class="t" x="399" y="4405.7"><tspan x="399" dy="0">7、要求学生做好章节归纳总结，提倡每日15</tspan><tspan x="399" dy="14.8">分钟回顾思考消化当天的化学知识。</tspan></text></g>
<g id="s5-r8"><rect class="n" x="393" y="4454.2" width="239" height="39.6" rx="6"/><text class="t" x="399" y="4470.7"><tspan x="399" dy="0">8、重视作业。要求学生规范，按时完成；要</tspan><tspan x="399" dy="14.8">求教师详细批改，改后学生认真更正。</tspan></text></g>
<g id="s5-r9"><rect class="n" x="393" y="4519.8" width="239" height="54.4" rx="6"/><text class="t" x="399" y="4536.3"><tspan x="399" dy="0">9、集思广益，搞好协作，精选习题，精讲精</tspan><tspan x="399" dy="14.8">练，不折不扣的完成教学任务，让学生满意、</tspan><tspan x="399" dy="14.8">让家长放心、让领导宽心。</tspan></text></g>
<g id="s5-h3"><rect class="n" x="658" y="5155" width="80" height="26" rx="6"/><text class="t" x="664" y="5172">三、工作措施</text></g>
<g id="s5-w1"><rect class="n" x="393" y="4598.6" width="239" height="172.8" rx="6"/><text class="t" x="399" y="4615.1"><tspan x="399" dy="0">1、由于暑假后开学比较晚，对高三复习的影</tspan><tspan x="399" dy="14.8">响比较大，时间紧任务重，只能是两节课时复</tspan><tspan x="399" dy="14.8">习一节内容，这必然严重影响复习的质量，为</tspan><tspan x="399" dy="14.8">此，我们主要从老师自身出发，强化个人素质</tspan><tspan x="399" dy="14.8">，提高驾驭课堂的能力，重视集体备课，向课</tspan><tspan x="399" dy="14.8">堂四十五分钟要质量，主要采取"预习——精</tspan><tspan x="399" dy="14.8">讲——精练——点评"的模式，力求稳扎稳打</tspan><tspan x="399" dy="14.8">，一步一个脚印的搞好第一轮复习，并在此基</tspan><tspan x="399" dy="14.8">础上，第二轮复习突出抓好几个专题，重点抓</tspan><tspan x="399" dy="14.8">好第三轮复习和综合训练，力争高考取得较好</tspan><tspan x="399" dy="14.8">的成绩。</tspan></text></g>
<g id="s5-w2"><rect class="n" x="393" y="4794.4" width="239" height="217.2" rx="6"/><text class="t" x="399" y="4810.9"><tspan x="399" dy="0">2、认真做好教学常规，确保教学有效开展认</tspan><tspan x="399" dy="14.8">真备好每节课，按照课程标准的要求，积极认</tspan><tspan x="399" dy="14.8">真地做好课前的备课资料的搜集工作。认真上</tspan><tspan x="399" dy="14.8">好每节课，积极实践新课程理念，把握好课堂</tspan><tspan x="399" dy="14.8">，提高课堂教学的实效性。精心设置习题，合</tspan><tspan x="399" dy="14.8">理、分层布置学生作业，活页课时作业和单元</tspan><tspan x="399" dy="14.8">测试要求全批全改；不定期抽查，发现问题及</tspan><tspan x="399" dy="14.8">时解决、及时反馈。精选习题，并要达到一定</tspan><tspan x="399" dy="14.8">的预期效果。对化学有特殊爱好的同学，给予</tspan><tspan x="399" dy="14.8">适当的指导。可以利用周末时间进行具体的辅</tspan><tspan x="399" dy="14.8">导，并布置较高要求的作业，以促进特长生的</tspan><tspan x="399" dy="14.8">发展。要重视学习方法的指导，对个别有心理</tspan><tspan x="399" dy="14.8">障碍的同学要及时进行心理干预，帮助他们克</tspan><tspan x="399" dy="14.8">服困难，迎难而上。</tspan></text></g>
<g id="s5-w3"><rect class="n" x="393" y="5035.2" width="239" height="113.6" rx="6"/><text class="t" x="399" y="5051.7"><tspan x="399" dy="0">3、积极开展实验教学，提高学生学习兴趣化</tspan><tspan x="399" dy="14.8">学是一门以实验为基础的自然科学，积极、认</tspan><tspan x="399" dy="14.8">真开展实验教学有助于提高学生的学习兴趣和</tspan><tspan x="399" dy="14.8">直观理解，有助于培养学生实验能力。依据学</tspan><tspan x="399" dy="14.8">校现有实验条件，在复习后期开放实验室，尽</tspan><tspan x="399" dy="14.8">可能的提供实验仪器，以提高学生的实验能力</tspan><tspan x="399" dy="14.8">。</tspan></text></g>
<g id="s5-w4"><rect class="n" x="412" y="5363" width="220" height="26" rx="6"/><text class="t" x="418" y="5380">4、积极开展教研活动，提高教学业务能力</text></g>
<g id="s5-w4a"><rect class="n" x="144" y="5174.8" width="239" height="54.4" rx="6"/><text class="t" x="150" y="5191.3"><tspan x="150" dy="0">（1）学习化学课程标准和考试大纲，明确新</tspan><tspan x="150" dy="14.8">课程的具体要求，利用集体备课活动时间，认</tspan><tspan x="150" dy="14.8">真学习、深入研究教育教学方法。</tspan></text></g>
<g id="s5-w4b"><rect class="n" x="144" y="5253.2" width="239" height="113.6" rx="6"/><text class="t" x="150" y="5269.7"><tspan x="150" dy="0">（2）定时进行备课组内老师之间的交流。每</tspan><tspan x="150" dy="14.8">个教学环节、每个教案、学案都在讨论中确定</tspan><tspan x="150" dy="14.8">，先形成共案，然后再根据各班和各任课老师</tspan><tspan x="150" dy="14.8">的情况形成个案；备课组每周进行一次教研活</tspan><tspan x="150" dy="14.8">动，内容包括有关教学进度的安排与调整、疑</tspan><tspan x="150" dy="14.8">难问题的分析讨论研究，高考的最新信息，化</tspan><tspan x="150" dy="14.8">学教学的改革与创新等。</tspan></text></g>
<g id="s5-w4c"><rect class="n" x="144" y="5391.6" width="239" height="98.8" rx="6"/><text class="t" x="150" y="5408.1"><tspan x="150" dy="0">（3）积极参加教学改革工作，要使学生参与</tspan><tspan x="150" dy="14.8">到教学的过程中来，更好地提高他们学习的兴</tspan><tspan x="150" dy="14.8">趣和积极性，使他们更自主地学习，学会学习</tspan><tspan x="150" dy="14.8">的方法。多使用启发式教学等好的教学方法，</tspan><tspan x="150" dy="14.8">充分体现以学生为主体的教学模式，不断提高</tspan><tspan x="150" dy="14.8">自身的教学水平。</tspan></text></g>
<g id="s5-w4d"><rect class="n" x="144" y="5516.4" width="239" height="69.2" rx="6"/><text class="t" x="150" y="5532.9"><tspan x="150" dy="0">（4）组织老师相互听课，增加交流机会，在</tspan><tspan x="150" dy="14.8">相互学习的基础上，共同提高教学水平。加强</tspan><tspan x="150" dy="14.8">青年教师的培养，使他们尽快的成为教学的骨</tspan><tspan x="150" dy="14.8">干力量。</tspan></text></g>
<g id="s5-w5"><rect class="n" x="480" y="5639" width="152" height="26" rx="6"/><text class="t" x="486" y="5656">5、继续开展和加强学案教学</text></g>
<g id="s5-w5a"><rect class="n" x="213" y="5610" width="239" height="84" rx="6"/><text class="t" x="219" y="5626.5"><tspan x="219" dy="0">学案运用要系列化。自学探究学案——技能</tspan><tspan x="219" dy="14.8">训练学案——综合检测学案——复习巩固学</tspan><tspan x="219" dy="14.8">案，构成学案系列。让学生全过程参与学习，</tspan><tspan x="219" dy="14.8">全面提高学习能力。当然学案要力求实效，切</tspan><tspan x="219" dy="14.8">忌"假大空"、走过场。</tspan></text></g>
<g id="s5-h4"><rect class="n" x="658" y="5882" width="80" height="26" rx="6"/><text class="t" x="664" y="5899">四、教学进度</text></g>
<g id="s5-p0"><rect class="n" x="393" y="5719.2" width="239" height="39.6" rx="6"/><text class="t" x="399" y="5735.7"><tspan x="399" dy="0">复习采取三轮四段复习法。年前进行2——3</tspan><tspan x="399" dy="14.8">次理科综合测试。</tspan></text></g>
<g id="s5-p1"><rect class="n" x="393" y="5783.6" width="239" height="98.8" rx="6"/><text class="t" x="399" y="5800.1"><tspan x="399" dy="0">1、第一轮复习：按教材章节进行（20xx年9</tspan><tspan x="399" dy="14.8">月初～20xx年3月底），夯实基础，章节过关</tspan><tspan x="399" dy="14.8">，以高考的基本题型（基本概念、基本理论、</tspan><tspan x="399" dy="14.8">基本实验）进行系统的复习，着力培养学生的</tspan><tspan x="399" dy="14.8">解题的规范性能力、文字表达能力和语言表达</tspan><tspan x="399" dy="14.8">能力。</tspan></text></g>
<g id="s5-p2"><rect class="n" x="393" y="5907.4" width="239" height="69.2" rx="6"/><text class="t" x="399" y="5923.9"><tspan x="399" dy="0">2、第二轮复习（20xx年4月上旬～4月中旬）</tspan><tspan x="399" dy="14.8">，以综合能力为主、板块式推进，专题复习、</tspan><tspan x="399" dy="14.8">考点精练。将各知识点有效的串接起来，形成</tspan><tspan x="399" dy="14.8">有效的知识框架结构。</tspan></text></g>
<g id="s5-p3"><rect class="n" x="393" y="6001.6" width="239" height="98.8" rx="6"/><text class="t" x="399" y="6018.1"><tspan x="399" dy="0">3、第三轮复习（20xx年4月下旬～5月底）即</tspan><tspan x="399" dy="14.8">综合训练和模拟练习，知识迁移能力的训练。</tspan><tspan x="399" dy="14.8">强化训练阶段。自我小结、查漏补缺，教师点</tspan><tspan x="399" dy="14.8">拨精讲，重在抓学生完成学科内知识体系的构</tspan><tspan x="399" dy="14.8">建，计划每周两套题，采取练、评的教学方式</tspan><tspan x="399" dy="14.8">。</tspan></text></g>
</g>
</svg>
